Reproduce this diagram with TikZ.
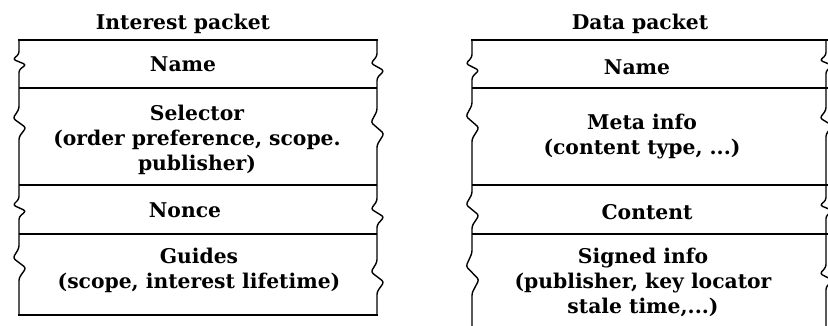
\documentclass[tikz,border=0pt]{standalone}
\usepackage{fontspec}
\setmainfont{DejaVu Serif}
\begin{document}
\begin{tikzpicture}[x=1pt,y=-1pt,
  edge/.style={line width=1.4pt, line join=round, rounded corners=2.5pt},
  hline/.style={line width=1.8pt},
  txt/.style={font=\bfseries\fontsize{20.3}{25}\selectfont, align=center, inner sep=0pt},
  wig/.style n args={3}{insert path={-- (#1,#2-#3) -- (#1-6,#2-#3/3) -- (#1+7,#2+#3/3) -- (#1,#2+#3)}}]
\useasboundingbox (0,0) rectangle (828,326);
\clip (0,0) rectangle (828,326);
% ---------- Interest packet ----------
\draw[hline] (18,40) -- (378,40);
\draw[hline] (19,88) -- (377,88);
\draw[hline] (19,185) -- (377,185);
\draw[hline] (19,234) -- (377,234);
\draw[hline] (18,315) -- (378,315);
\draw[edge] (19,40) [wig={19}{62}{8}] [wig={19}{123}{14}] [wig={19}{208}{9}] [wig={19}{263}{15}] -- (19,315);
\draw[edge] (377,40) [wig={377}{67}{11}] [wig={377}{128}{17}] [wig={377}{213}{12}] [wig={377}{277}{15}] -- (377,315);
\node[txt] (t1) at (183,24) {Interest packet};
\node[txt] (n1) at (183,64) {Name};
\node[txt] (s1) at (197,140) {Selector\\(order preference, scope.\\publisher)};
\node[txt] (o1) at (185,210) {Nonce};
\node[txt] (g1) at (199,270) {Guides\\(scope, interest lifetime)};
% ---------- Data packet ----------
\draw[hline] (471,40) -- (828,40);
\draw[hline] (472,88) -- (828,88);
\draw[hline] (472,185) -- (828,185);
\draw[hline] (472,234) -- (828,234);
\draw[edge] (472,40) [wig={472}{67}{10}] [wig={472}{122}{17}] [wig={472}{210}{16}] [wig={472}{273}{20}] -- (472,330);
\draw[edge] (826,40) [wig={826}{63}{8}] [wig={826}{122}{12}] [wig={826}{208}{8}] [wig={826}{277}{10}] -- (826,330);
\node[txt] (t2) at (640,24) {Data packet};
\node[txt] (n2) at (637,67) {Name};
\node[txt] (m2) at (642,137) {Meta info\\(content type, ...)};
\node[txt] (c2) at (647,212) {Content};
\node[txt] (i2) at (643,282) {Signed info\\(publisher, key locator\\stale time,...)};
\end{tikzpicture}
\end{document}
